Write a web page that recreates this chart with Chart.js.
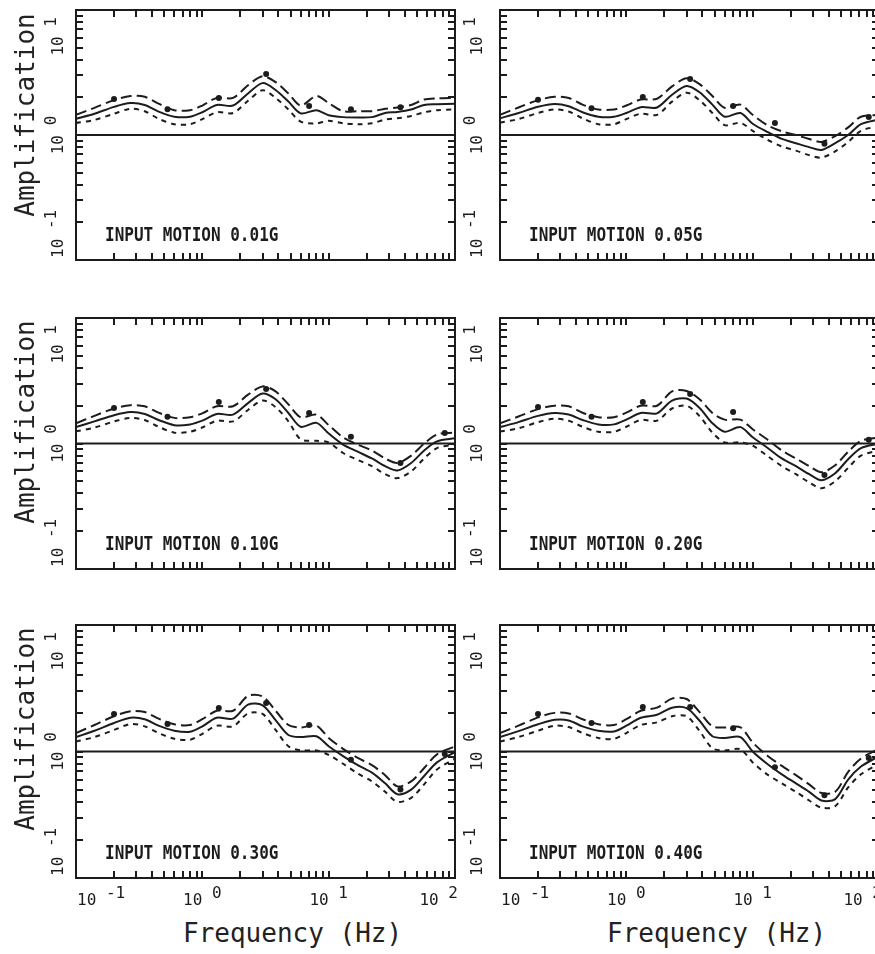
<!DOCTYPE html>
<html>
<head>
<meta charset="utf-8">
<script src="https://cdn.jsdelivr.net/npm/chart.js@4.4.1/dist/chart.umd.min.js"></script>
<style>
html, body { margin: 0; padding: 0; background: #fff; }
#wrap { position: relative; width: 875px; height: 954px; overflow: hidden; background: #fff; }
#wrap canvas { position: absolute; }
.ttl { position: absolute; font-family: "DejaVu Sans Mono", monospace; font-size: 26px; line-height: 26px; color: #222; white-space: nowrap; }
.amp { transform: translate(-50%, -50%) rotate(-90deg); }
</style>
</head>
<body>
<div id="wrap">
  <canvas id="c0" width="460" height="300" style="left:0;top:0"></canvas>
  <canvas id="c1" width="425" height="300" style="left:460px;top:0"></canvas>
  <canvas id="c2" width="460" height="300" style="left:0;top:300px"></canvas>
  <canvas id="c3" width="425" height="300" style="left:460px;top:300px"></canvas>
  <canvas id="c4" width="460" height="315" style="left:0;top:600px"></canvas>
  <canvas id="c5" width="425" height="315" style="left:460px;top:600px"></canvas>
  <div class="ttl amp" style="left:25px;top:115px">Amplification</div>
  <div class="ttl amp" style="left:25px;top:422px">Amplification</div>
  <div class="ttl amp" style="left:25px;top:729px">Amplification</div>
  <div class="ttl" style="left:183px;top:920px">Frequency (Hz)</div>
  <div class="ttl" style="left:607px;top:920px">Frequency (Hz)</div>
</div>
<script>
// ---------------- data ----------------
const FREQ = [0.1, 0.14, 0.2, 0.27, 0.35, 0.45, 0.6, 0.8, 1.0, 1.3, 1.75, 2.3, 3.0, 3.8, 4.8, 6, 8, 10, 13, 17, 22, 28, 35, 45, 57, 72, 100];
const DOT_FREQ = [0.2, 0.53, 1.35, 3.2, 7.0, 15, 37, 83];
const UNITY_FREQ = [0.1, 100];
const UNITY = [1, 1];

const X_TICK_VALUES = [0.2, 0.3, 0.4, 0.5, 0.6, 0.7, 0.8, 0.9, 1, 2, 3, 4, 5, 6, 7, 8, 9, 10, 20, 30, 40, 50, 60, 70, 80, 90];
const Y_TICK_VALUES = [0.2, 0.3, 0.4, 0.5, 0.6, 0.7, 0.8, 0.9, 1, 2, 3, 4, 5, 6, 7, 8, 9];
const X_LABEL_VALUES = [0.1, 1, 10, 100];
const X_LABEL_EXP = ['-1', '0', '1', '2'];
const Y_LABEL_VALUES = [0.1, 1, 10];
const Y_LABEL_EXP = ['-1', '0', '1'];

const PANEL_LABELS = ['INPUT MOTION 0.01G', 'INPUT MOTION 0.05G', 'INPUT MOTION 0.10G', 'INPUT MOTION 0.20G', 'INPUT MOTION 0.30G', 'INPUT MOTION 0.40G'];

const MED_001 = [1.35, 1.48, 1.68, 1.80, 1.74, 1.54, 1.40, 1.40, 1.52, 1.74, 1.72, 2.15, 2.60, 2.29, 1.85, 1.49, 1.58, 1.44, 1.39, 1.38, 1.39, 1.50, 1.53, 1.60, 1.74, 1.76, 1.78];
const UP_001  = [1.45, 1.65, 1.90, 2.05, 2.02, 1.78, 1.58, 1.58, 1.72, 1.98, 1.98, 2.50, 2.95, 2.65, 2.15, 1.72, 2.05, 1.80, 1.55, 1.55, 1.55, 1.62, 1.66, 1.74, 1.92, 1.96, 1.98];
const LO_001  = [1.25, 1.32, 1.48, 1.62, 1.55, 1.35, 1.22, 1.22, 1.34, 1.52, 1.50, 1.88, 2.28, 1.98, 1.60, 1.28, 1.24, 1.30, 1.24, 1.22, 1.24, 1.33, 1.36, 1.42, 1.52, 1.58, 1.60];
const DOT_001 = [1.94, 1.61, 1.98, 3.08, 1.71, 1.61, 1.67, null];

const MED_005 = [1.36, 1.50, 1.68, 1.77, 1.70, 1.52, 1.40, 1.40, 1.50, 1.67, 1.66, 2.10, 2.47, 2.20, 1.75, 1.40, 1.50, 1.23, 1.06, 0.93, 0.86, 0.80, 0.76, 0.86, 1.00, 1.22, 1.33];
const UP_005  = [1.45, 1.66, 1.90, 2.02, 1.98, 1.75, 1.60, 1.60, 1.72, 1.92, 1.95, 2.45, 2.85, 2.55, 2.05, 1.65, 1.75, 1.45, 1.20, 1.07, 1.00, 0.93, 0.88, 0.98, 1.15, 1.40, 1.45];
const LO_005  = [1.26, 1.34, 1.50, 1.60, 1.54, 1.36, 1.22, 1.22, 1.34, 1.48, 1.45, 1.85, 2.18, 1.90, 1.50, 1.20, 1.25, 1.08, 0.92, 0.81, 0.75, 0.69, 0.66, 0.74, 0.88, 1.08, 1.18];
const DOT_005 = [1.91, 1.64, 2.01, 2.81, 1.71, 1.25, 0.85, 1.39];

const MED_010 = [1.35, 1.50, 1.68, 1.78, 1.72, 1.54, 1.40, 1.42, 1.52, 1.72, 1.70, 2.10, 2.50, 2.25, 1.75, 1.36, 1.46, 1.20, 0.98, 0.86, 0.76, 0.66, 0.61, 0.70, 0.88, 1.04, 1.10];
const UP_010  = [1.45, 1.66, 1.90, 2.02, 1.98, 1.76, 1.60, 1.62, 1.74, 1.98, 1.98, 2.45, 2.85, 2.60, 2.05, 1.62, 1.70, 1.40, 1.12, 0.98, 0.88, 0.76, 0.70, 0.80, 1.00, 1.18, 1.22];
const LO_010  = [1.25, 1.34, 1.50, 1.60, 1.54, 1.36, 1.22, 1.24, 1.34, 1.52, 1.50, 1.85, 2.20, 1.95, 1.50, 1.08, 1.05, 1.02, 0.84, 0.74, 0.66, 0.57, 0.53, 0.60, 0.76, 0.92, 0.98];
const DOT_010 = [1.92, 1.63, 2.14, 2.72, 1.75, 1.13, 0.70, 1.21];

const MED_020 = [1.35, 1.48, 1.66, 1.75, 1.70, 1.54, 1.42, 1.42, 1.55, 1.75, 1.74, 2.20, 2.28, 1.92, 1.45, 1.24, 1.35, 1.12, 0.93, 0.76, 0.66, 0.57, 0.51, 0.58, 0.75, 0.92, 1.00];
const UP_020  = [1.45, 1.64, 1.88, 2.00, 1.98, 1.76, 1.62, 1.62, 1.76, 2.00, 2.00, 2.60, 2.62, 2.25, 1.75, 1.55, 1.55, 1.30, 1.08, 0.88, 0.76, 0.66, 0.59, 0.67, 0.86, 1.05, 1.12];
const LO_020  = [1.25, 1.32, 1.48, 1.58, 1.52, 1.36, 1.24, 1.24, 1.36, 1.54, 1.52, 1.90, 2.00, 1.65, 1.22, 1.02, 1.02, 0.96, 0.80, 0.66, 0.57, 0.49, 0.44, 0.50, 0.64, 0.80, 0.88];
const DOT_020 = [1.95, 1.63, 2.14, 2.48, 1.78, null, 0.56, 1.07];

const MED_030 = [1.30, 1.46, 1.68, 1.85, 1.80, 1.60, 1.46, 1.43, 1.58, 1.85, 1.82, 2.35, 2.32, 1.77, 1.35, 1.30, 1.32, 1.10, 0.92, 0.78, 0.68, 0.56, 0.46, 0.50, 0.64, 0.82, 0.99];
const UP_030  = [1.40, 1.62, 1.90, 2.08, 2.05, 1.82, 1.64, 1.62, 1.80, 2.10, 2.10, 2.75, 2.72, 2.10, 1.62, 1.55, 1.60, 1.28, 1.05, 0.89, 0.78, 0.65, 0.53, 0.58, 0.74, 0.95, 1.10];
const LO_030  = [1.20, 1.30, 1.48, 1.65, 1.58, 1.40, 1.26, 1.24, 1.38, 1.60, 1.58, 2.00, 1.98, 1.48, 1.10, 1.02, 1.02, 0.94, 0.80, 0.67, 0.58, 0.48, 0.40, 0.43, 0.55, 0.72, 0.88];
const DOT_030 = [1.98, 1.65, 2.21, 2.42, 1.62, 0.86, 0.50, 0.955];

const MED_040 = [1.30, 1.45, 1.64, 1.78, 1.76, 1.58, 1.46, 1.44, 1.60, 1.85, 1.95, 2.22, 2.20, 1.75, 1.32, 1.28, 1.30, 1.00, 0.80, 0.66, 0.56, 0.48, 0.41, 0.42, 0.60, 0.76, 0.92];
const UP_040  = [1.40, 1.60, 1.86, 2.02, 2.00, 1.80, 1.64, 1.62, 1.80, 2.10, 2.22, 2.62, 2.60, 2.05, 1.58, 1.55, 1.55, 1.18, 0.93, 0.77, 0.65, 0.55, 0.47, 0.48, 0.69, 0.88, 1.05];
const LO_040  = [1.20, 1.30, 1.46, 1.60, 1.56, 1.40, 1.28, 1.26, 1.40, 1.62, 1.70, 1.90, 1.90, 1.45, 1.06, 1.02, 1.04, 0.82, 0.66, 0.56, 0.48, 0.41, 0.36, 0.37, 0.52, 0.66, 0.80];
const DOT_040 = [1.98, 1.68, 2.25, 2.25, 1.53, 0.75, 0.45, 0.89];

const PANELS = [
  { label: PANEL_LABELS[0], med: MED_001, up: UP_001, lo: LO_001, dots: DOT_001 },
  { label: PANEL_LABELS[1], med: MED_005, up: UP_005, lo: LO_005, dots: DOT_005 },
  { label: PANEL_LABELS[2], med: MED_010, up: UP_010, lo: LO_010, dots: DOT_010 },
  { label: PANEL_LABELS[3], med: MED_020, up: UP_020, lo: LO_020, dots: DOT_020 },
  { label: PANEL_LABELS[4], med: MED_030, up: UP_030, lo: LO_030, dots: DOT_030 },
  { label: PANEL_LABELS[5], med: MED_040, up: UP_040, lo: LO_040, dots: DOT_040 }
];

// ---------------- drawing ----------------
const INK = '#1c1c1c';
const FONT = '"DejaVu Sans Mono", monospace';

function drawPow(ctx, exp, align) {
  ctx.font = '16px ' + FONT;
  ctx.textAlign = 'left';
  ctx.textBaseline = 'alphabetic';
  const wBase = ctx.measureText('10 ').width;
  const w = wBase + ctx.measureText(exp).width;
  const sx = align === 'left' ? 0 : (align === 'right' ? -w : -w / 2);
  ctx.fillText('10', sx, 0);
  ctx.fillText(exp, sx + wBase, -7);
}

function tickPath(ctx, a, xs, ys, len) {
  ctx.beginPath();
  X_TICK_VALUES.forEach(v => {
    const p = Math.round(xs.getPixelForValue(v));
    ctx.moveTo(p, a.bottom); ctx.lineTo(p, a.bottom - len);
    ctx.moveTo(p, a.top); ctx.lineTo(p, a.top + len);
  });
  Y_TICK_VALUES.forEach(v => {
    const p = Math.round(ys.getPixelForValue(v));
    ctx.moveTo(a.left, p); ctx.lineTo(a.left + len, p);
    ctx.moveTo(a.right, p); ctx.lineTo(a.right - len, p);
  });
}

const panelText = {
  id: 'panelText',
  afterDraw(chart, args, opts) {
    const ctx = chart.ctx;
    const a = chart.chartArea;
    const xs = chart.scales.x, ys = chart.scales.y;
    // inward tick marks on all four sides, placed by the scales
    ctx.save();
    ctx.setLineDash([]);
    ctx.strokeStyle = INK;
    ctx.lineWidth = 2;
    tickPath(ctx, a, xs, ys, 7);
    ctx.stroke();
    ctx.restore();

    ctx.save();
    ctx.fillStyle = INK;
    // y-axis power-of-ten labels (rotated)
    Y_LABEL_VALUES.forEach((v, i) => {
      const p = ys.getPixelForValue(v);
      ctx.save();
      ctx.translate(a.left - opts.yGap, p);
      ctx.rotate(-Math.PI / 2);
      if (i === 0) { ctx.translate(2, 0); drawPow(ctx, Y_LABEL_EXP[i], 'left'); }
      else if (i === Y_LABEL_VALUES.length - 1) { ctx.translate(-7, 0); drawPow(ctx, Y_LABEL_EXP[i], 'right'); }
      else { drawPow(ctx, Y_LABEL_EXP[i], 'center'); }
      ctx.restore();
    });
    // x-axis power-of-ten labels (bottom row only)
    if (opts.showX) {
      X_LABEL_VALUES.forEach((v, i) => {
        const p = xs.getPixelForValue(v);
        ctx.save();
        ctx.translate(p, a.bottom + 27);
        if (i === 0) { ctx.translate(1, 0); drawPow(ctx, X_LABEL_EXP[i], 'left'); }
        else if (i === X_LABEL_VALUES.length - 1) { ctx.translate(3, 0); drawPow(ctx, X_LABEL_EXP[i], 'right'); }
        else { drawPow(ctx, X_LABEL_EXP[i], 'center'); }
        ctx.restore();
      });
    }
    // panel annotation
    ctx.save();
    ctx.translate(a.left + 29, a.bottom - 19);
    ctx.scale(0.8, 1);
    ctx.font = 'bold 20px ' + FONT;
    ctx.textAlign = 'left';
    ctx.textBaseline = 'alphabetic';
    ctx.fillText(opts.text, 0, 0);
    ctx.restore();
    ctx.restore();
  }
};

function axis(kind, position) {
  const isX = kind === 'x';
  return {
    type: 'logarithmic',
    position: position,
    min: 0.1,
    max: isX ? 100 : 10,
    afterFit: (s) => { if (isX) s.height = 0; else s.width = 0; },
    ticks: { display: false },
    grid: { display: false },
    border: { display: true, color: INK, width: 2 }
  };
}

const GEOM = [
  { pad: { left: 76, right: 5, top: 10, bottom: 40 }, yGap: 13, showX: false },
  { pad: { left: 40, right: 6, top: 10, bottom: 40 }, yGap: 18, showX: false },
  { pad: { left: 76, right: 5, top: 18, bottom: 31 }, yGap: 13, showX: false },
  { pad: { left: 40, right: 6, top: 18, bottom: 31 }, yGap: 18, showX: false },
  { pad: { left: 76, right: 5, top: 25, bottom: 37 }, yGap: 13, showX: true },
  { pad: { left: 40, right: 6, top: 25, bottom: 37 }, yGap: 18, showX: true }
];

PANELS.forEach((pnl, k) => {
  const g = GEOM[k];
  const pts = (arr) => FREQ.map((f, i) => ({ x: f, y: arr[i] }));
  const lineDs = (label, arr, dash) => ({
    label: label, data: pts(arr), borderColor: INK, borderWidth: 2, borderDash: dash,
    pointRadius: 0, tension: 0.3, fill: false
  });
  new Chart(document.getElementById('c' + k), {
    type: 'line',
    data: {
      datasets: [
        { label: 'Unity', data: UNITY_FREQ.map((f, i) => ({ x: f, y: UNITY[i] })), borderColor: INK, borderWidth: 2, pointRadius: 0, fill: false },
        lineDs('Upper', pnl.up, [11, 5]),
        lineDs('Median', pnl.med, []),
        lineDs('Lower', pnl.lo, [5, 5]),
        { label: 'Observed', data: DOT_FREQ.map((f, i) => ({ x: f, y: pnl.dots[i] })).filter(p => p.y !== null),
          showLine: false, pointRadius: 3, pointBackgroundColor: INK, pointBorderWidth: 0, borderColor: INK }
      ]
    },
    options: {
      responsive: false,
      animation: false,
      events: [],
      layout: { padding: g.pad },
      plugins: {
        legend: { display: false },
        tooltip: { enabled: false },
        panelText: { text: pnl.label, yGap: g.yGap, showX: g.showX }
      },
      scales: {
        x: axis('x', 'bottom'),
        x2: axis('x', 'top'),
        y: axis('y', 'left'),
        y2: axis('y', 'right')
      }
    },
    plugins: [panelText]
  });
});
</script>
</body>
</html>
